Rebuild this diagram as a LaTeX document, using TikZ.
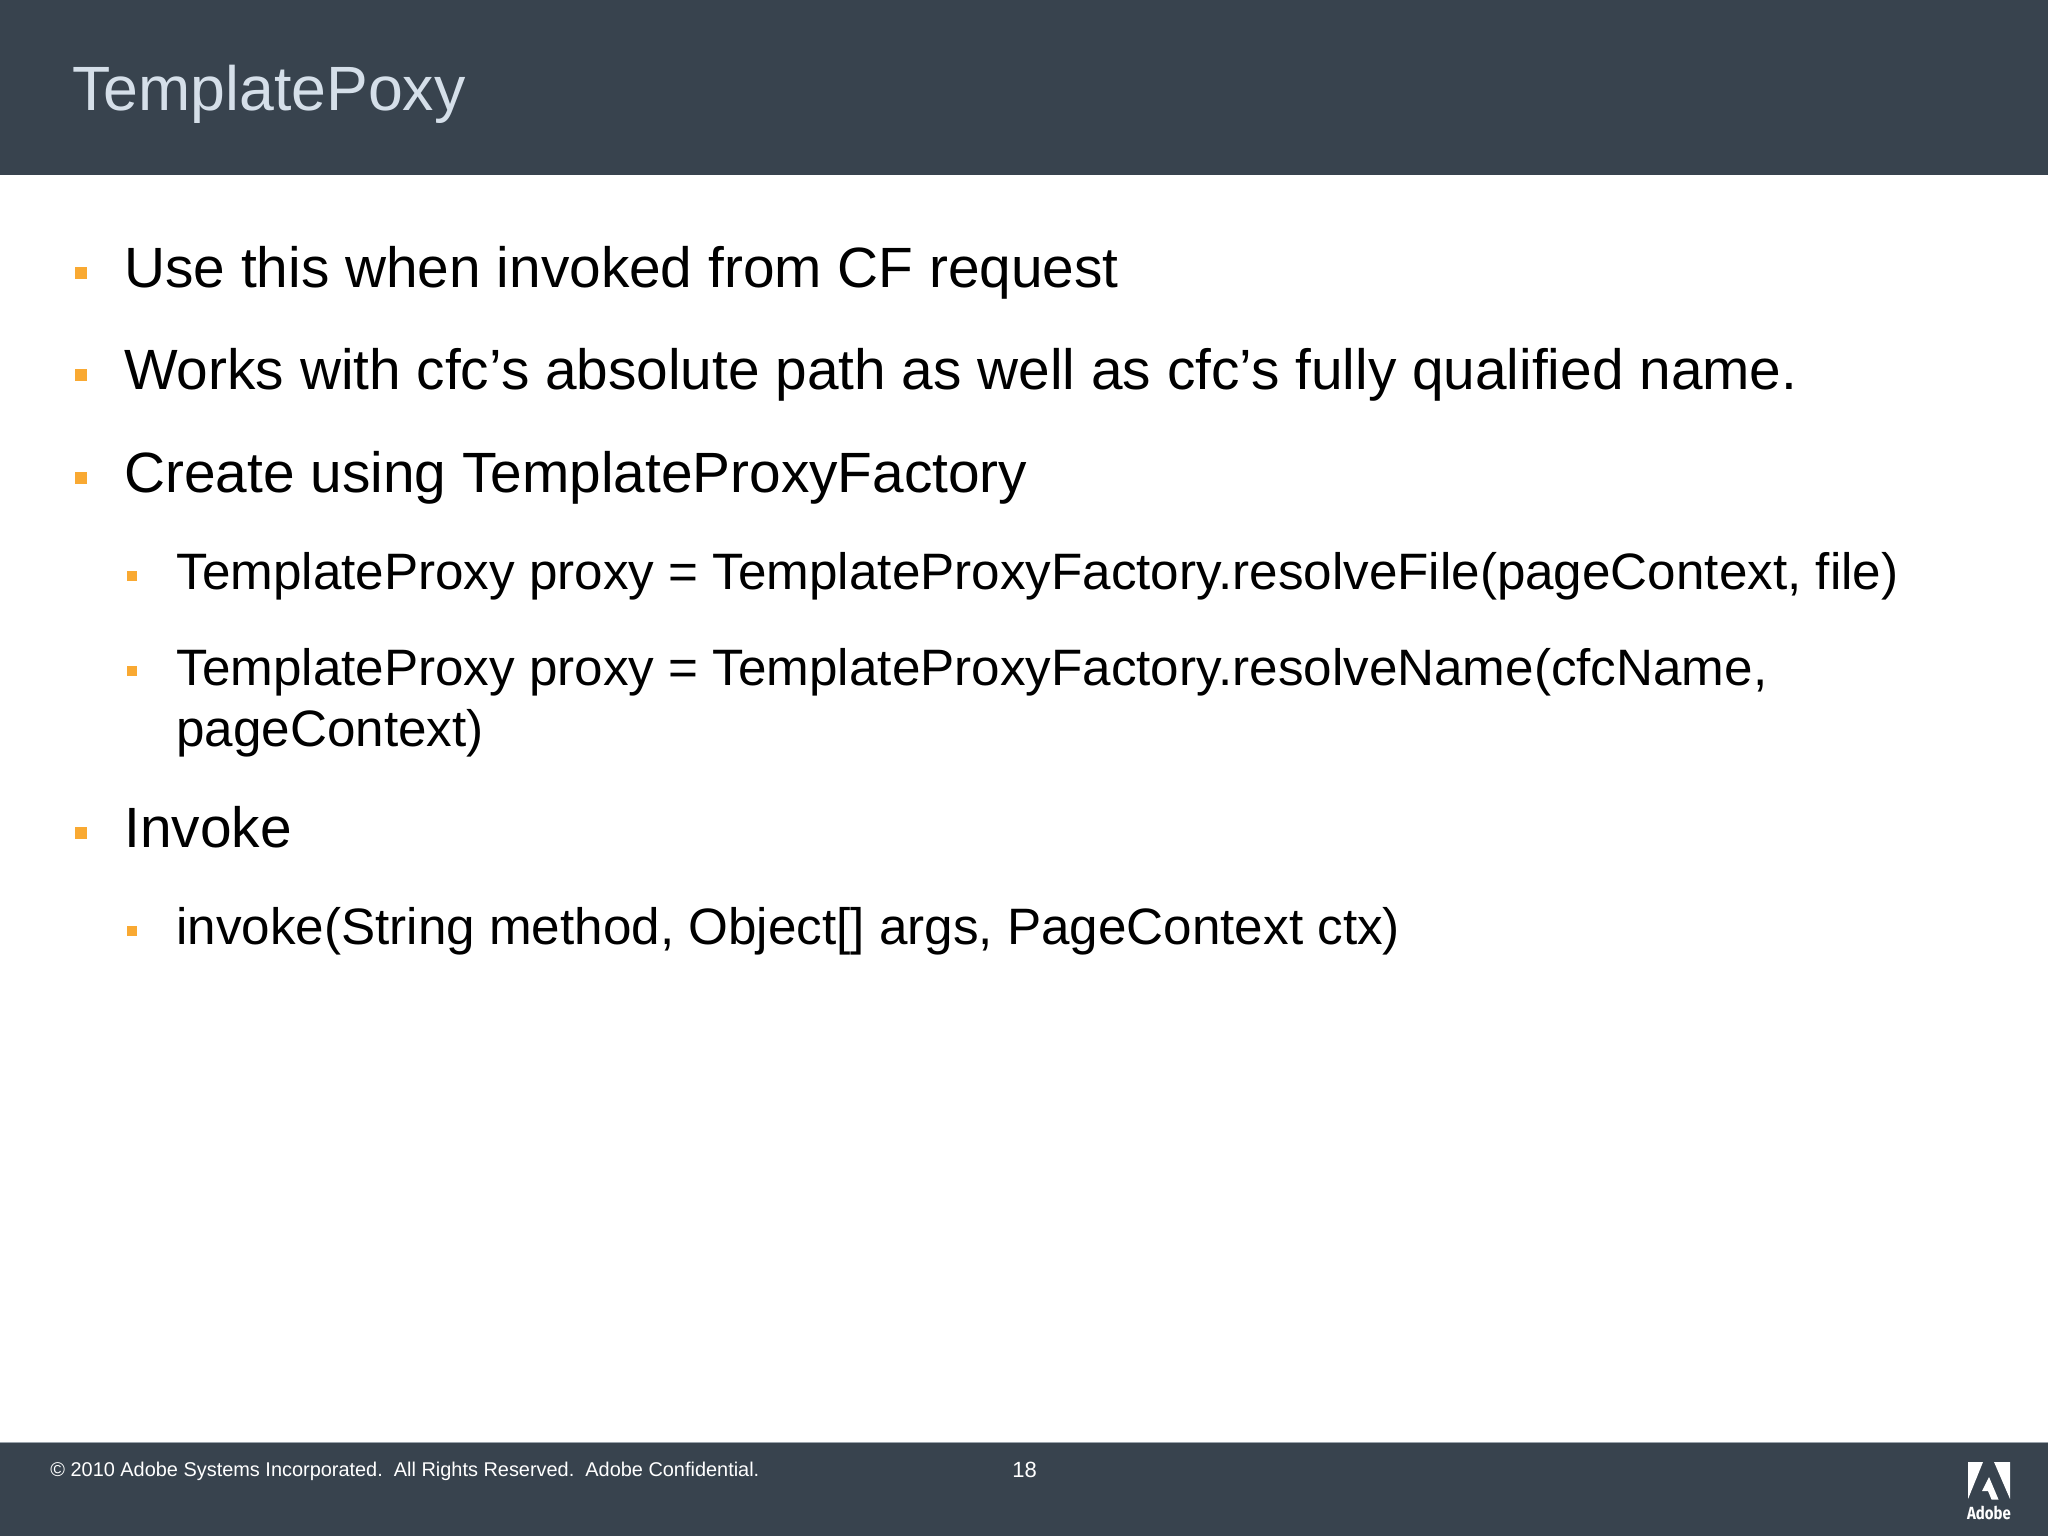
\documentclass[tikz,border=0pt]{standalone}
\usepackage{fontspec}
\setmainfont{Liberation Sans}
\newfontfamily\logofont{Fira Sans}
\usepackage{tikz}
\definecolor{slatebar}{HTML}{38434E}
\definecolor{titleblue}{HTML}{D5DFE9}
\definecolor{bulletorange}{HTML}{F9A932}
\definecolor{barline}{HTML}{9AA3AB}
\tikzset{
    slidetext/.style = {anchor=base west, inner sep=0pt, text=black},
    levelone/.style = {slidetext, font=\fontsize{28.4}{34}\selectfont},
    leveltwo/.style = {slidetext, align=left, font=\fontsize{25.6}{30.5}\selectfont},
    footertext/.style = {anchor=base west, inner sep=0pt, text=white, font=\fontsize{9.96}{12}\selectfont},
    bigbullet/.style = {fill=bulletorange, inner sep=0pt, minimum size=6pt},
    smallbullet/.style = {fill=bulletorange, inner sep=0pt, minimum size=5pt}
}
\begin{document}
\begin{tikzpicture}[x=0.5pt, y=-0.5pt]
    \useasboundingbox (0,0) rectangle (2048,1536);
    \fill[slatebar] (0,0) rectangle (2048,175);
    \fill[slatebar] (0,1442) rectangle (2048,1536);
    \draw[barline, line width=0.5pt] (0,1442.5) -- (2048,1442.5);

    \node[anchor=base west, inner sep=0pt, text=titleblue, font=\fontsize{31.3}{37}\selectfont] (title) at (72,110.5) {TemplatePoxy};

    % bullets of the body
    \node[bigbullet] (b1) at (81,272.5) {};
    \node[bigbullet] (b2) at (81,375) {};
    \node[bigbullet] (b3) at (81,478) {};
    \node[smallbullet] (b4) at (132,576) {};
    \node[smallbullet] (b5) at (132,671) {};
    \node[bigbullet] (b6) at (81,833) {};
    \node[smallbullet] (b7) at (132,931) {};

    \node[levelone] (usethis) at (124,287) {Use this when invoked from CF request};
    \node[levelone] (works) at (124,389.5) {Works with cfc’s absolute path as well as cfc’s fully qualified name.};
    \node[levelone] (create) at (124,492.5) {Create using TemplateProxyFactory};
    \node[leveltwo] (resolvefile) at (176,589.5) {TemplateProxy proxy = TemplateProxyFactory.resolveFile(pageContext, file)};
    \node[leveltwo] (resolvename) at (176,746) {TemplateProxy proxy = TemplateProxyFactory.resolveName(cfcName,\\pageContext)};
    \node[levelone] (invoke) at (124,847) {Invoke};
    \node[leveltwo] (invokecall) at (176,944.5) {invoke(String method, Object[] args, PageContext ctx)};

    % footer
    \node[footertext] (copyright) at (50,1476) {© 2010 Adobe Systems Incorporated.\ \ All Rights Reserved.\ \ Adobe Confidential.};
    \node[footertext, font=\fontsize{11}{13}\selectfont] (pagenum) at (1012,1477) {18};

    % logo
    \fill[white] (1968,1462) -- (1983,1462) -- (1968,1499) -- cycle;
    \fill[white] (1994,1462) -- (2010,1462) -- (2010,1499) -- cycle;
    \fill[white] (1989,1477) -- (1998.5,1499.5) -- (1991.5,1499.5) -- (1988,1491) -- (1982,1491) -- cycle;
    \node[anchor=base, inner sep=0pt, text=white, font=\logofont\bfseries\fontsize{8.8}{10}\selectfont, xscale=0.85] (adobe) at (1989,1519) {Adobe};
\end{tikzpicture}
\end{document}
